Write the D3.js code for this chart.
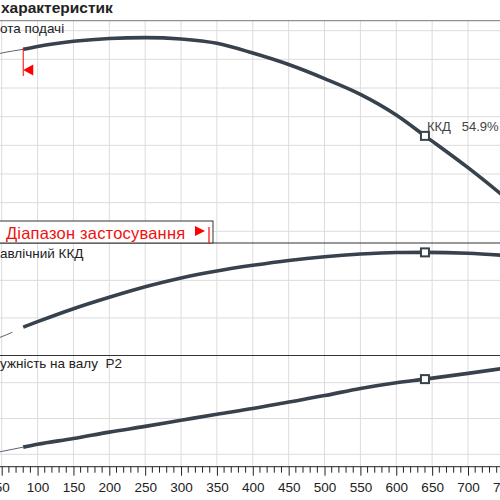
<!DOCTYPE html>
<html>
<head>
<meta charset="utf-8">
<script src="https://cdn.jsdelivr.net/npm/d3@7"></script>
<style>
  body { margin: 0; background: #fff; }
  text { font-family: "Liberation Sans", Arial, sans-serif; }
</style>
</head>
<body>
<svg width="500" height="500"></svg>
<script>
// flow (m3/h) and the three pump curves
const flow  = [45, 50, 65, 80, 100, 150, 200, 250, 300, 350, 400, 450, 500, 550, 600, 640, 700, 750];
const head  = [23.19, 23.22, 23.29, 23.35, 23.45, 23.63, 23.73, 23.76, 23.71, 23.56, 23.22, 22.82, 22.33, 21.78, 21.06, 20.33, 19.22, 18.22];
const eff   = [9.3, 10.0, 12.4, 15.1, 18.0, 24.9, 31.0, 36.6, 41.3, 45.0, 48.0, 50.6, 52.6, 54.0, 54.8, 54.9, 54.4, 53.3];
const power = [1.03, 1.04, 1.07, 1.10, 1.14, 1.22, 1.31, 1.39, 1.475, 1.56, 1.64, 1.73, 1.82, 1.92, 2.00, 2.05, 2.13, 2.20];

const xTicks = [50, 100, 150, 200, 250, 300, 350, 400, 450, 500, 550, 600, 650, 700, 750];
const headGrid = [17, 18, 19, 20, 21, 22, 23, 24];
const effGrid = [20, 40];
const powerGrid = [1.0, 1.5, 2.0];

const rangeStart = 80;   // start of the operating range
const dutyFlow = 640;    // duty point
const dutyEff = 54.9;

const svg = d3.select('svg');
const W = 500;
const TOP = 20.7, P1B = 243, P2B = 355.5, AXIS = 466.7;

/* ************** SCALES ************** */
const x = d3.scaleLinear().domain([47.63, 744.6]).range([0, W]);
const yHead = d3.scaleLinear().domain([17, 24]).range([231.3, 30.7]);
const yEff = d3.scaleLinear().domain([0, 60]).range([355.5, 242.8]);
const yPow = d3.scaleLinear().domain([1.0, 2.0]).range([454.3, 382.7]);

const panels = [
  {id: 'p1', top: TOP, bottom: P1B, y: yHead, vals: head, grid: headGrid, label: 'ота подачі', labelY: 33, thinEnd: 80},
  {id: 'p2', top: P1B, bottom: P2B, y: yEff, vals: eff, grid: effGrid, label: 'авлічний ККД', labelY: 257.5, thinEnd: 65},
  {id: 'p3', top: P2B, bottom: AXIS, y: yPow, vals: power, grid: powerGrid, label: 'ужність на валу  P2', labelY: 367.5, thinEnd: 80}
];

const defs = svg.append('defs');
panels.forEach(p => {
  defs.append('clipPath').attr('id', 'clip-' + p.id)
    .append('rect').attr('x', 0).attr('y', p.top).attr('width', W).attr('height', p.bottom - p.top);
});

/* ************** GRID ************** */
const grid = svg.append('g');
grid.selectAll('.vgrid').data(xTicks).enter().append('line')
  .attr('x1', d => x(d)).attr('x2', d => x(d))
  .attr('y1', TOP).attr('y2', AXIS)
  .attr('stroke', '#dcdcdc').attr('stroke-width', 1);

panels.forEach(p => {
  grid.selectAll('.h' + p.id).data(p.grid.filter(v => p.y(v) > p.top + 1 && p.y(v) < p.bottom - 1)).enter().append('line')
    .attr('x1', 0).attr('x2', W)
    .attr('y1', d => p.y(d)).attr('y2', d => p.y(d))
    .attr('stroke', '#dcdcdc').attr('stroke-width', 1);
});

// panel frames
svg.append('line').attr('x1', 0).attr('x2', W).attr('y1', TOP).attr('y2', TOP).attr('stroke', '#777').attr('stroke-width', 1);
[P1B, P2B].forEach(yy => svg.append('line').attr('x1', 0).attr('x2', W).attr('y1', yy).attr('y2', yy).attr('stroke', '#333').attr('stroke-width', 1));

/* ************** CURVES ************** */
panels.forEach(p => {
  const pts = flow.map((q, i) => ({q: q, v: p.vals[i]}));
  const line = d3.line().x(d => x(d.q)).y(d => p.y(d.v)).curve(d3.curveMonotoneX);
  const g = svg.append('g').attr('clip-path', `url(#clip-${p.id})`);
  g.append('path').datum(pts.filter(d => d.q <= p.thinEnd))
    .attr('d', line).attr('fill', 'none').attr('stroke', '#5a6470').attr('stroke-width', 1);
  g.append('path').datum(pts.filter(d => d.q >= rangeStart))
    .attr('d', line).attr('fill', 'none').attr('stroke', '#37424d').attr('stroke-width', 3.6)
    .attr('stroke-linejoin', 'round');
  const i = flow.indexOf(dutyFlow);
  g.append('rect')
    .attr('x', x(dutyFlow) - 4).attr('y', p.y(p.vals[i]) - 4)
    .attr('width', 8).attr('height', 8)
    .attr('fill', '#fff').attr('stroke', '#37424d').attr('stroke-width', 2);

  svg.append('text').attr('x', 0).attr('y', p.labelY)
    .attr('font-size', 13.5).attr('fill', '#222').attr('xml:space', 'preserve').text(p.label);
});

// duty point label
svg.append('text').attr('x', x(dutyFlow) + 2).attr('y', yHead(head[flow.indexOf(dutyFlow)]) - 5)
  .attr('font-size', 13).attr('fill', '#444').attr('xml:space', 'preserve')
  .text('ККД   ' + dutyEff + '%');

/* ************** RANGE MARKERS ************** */
const rx = x(rangeStart);
svg.append('line').attr('x1', rx).attr('x2', rx).attr('y1', 48).attr('y2', 76).attr('stroke', '#f00').attr('stroke-width', 1);
svg.append('path').attr('d', `M${rx},70 L${rx + 10},64.5 L${rx + 10},75.5 Z`).attr('fill', '#f00');

svg.append('rect').attr('x', -1).attr('y', 221).attr('width', 214).attr('height', 22)
  .attr('fill', '#fff').attr('stroke', '#333').attr('stroke-width', 1);
svg.append('text').attr('x', 6).attr('y', 238.5).attr('font-size', 16.5).attr('fill', '#f01010')
  .attr('letter-spacing', 0.2).text('Діапазон застосування');
svg.append('path').attr('d', 'M195,226 L205,231 L195,236 Z').attr('fill', '#f00');
svg.append('line').attr('x1', 209).attr('x2', 209).attr('y1', 227).attr('y2', 243).attr('stroke', '#f00').attr('stroke-width', 1.2);

/* ************** AXIS ************** */
const axis = d3.axisBottom(x).tickValues(xTicks).tickSize(9).tickPadding(7).tickFormat(d3.format('d'));
const ax = svg.append('g').attr('transform', `translate(0,${AXIS})`).call(axis);
ax.select('.domain').attr('d', `M0,0H${W}`).attr('stroke', '#222');
ax.selectAll('.tick line').attr('stroke', '#222');
ax.selectAll('.tick text').attr('font-size', 13.5).attr('fill', '#222')
  .attr('font-family', '"Liberation Sans", Arial, sans-serif');
const minor = d3.range(50, 751, 10).filter(v => v % 50 !== 0);
ax.selectAll('.minor').data(minor).enter().append('line')
  .attr('x1', d => x(d)).attr('x2', d => x(d)).attr('y1', 0).attr('y2', 6)
  .attr('stroke', '#222').attr('stroke-width', 1);

// title
svg.append('text').attr('x', 1).attr('y', 13).attr('font-size', 15.5).attr('font-weight', 'bold')
  .attr('fill', '#222').text('характеристик');
</script>
</body>
</html>
